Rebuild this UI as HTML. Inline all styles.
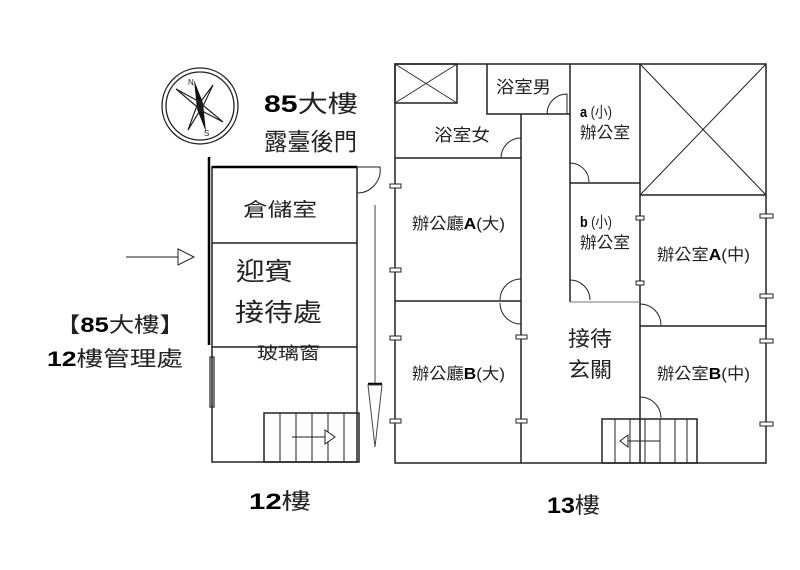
<!DOCTYPE html>
<html><head><meta charset="utf-8"><style>
html,body{margin:0;padding:0;background:#fff;}
svg{display:block;}
text{font-family:"Liberation Sans","Noto Sans CJK TC",sans-serif;fill:#222;}
.b{font-weight:bold;fill:#000;}
</style></head><body>
<svg width="800" height="570" viewBox="0 0 800 570">
<g fill="none" stroke="#222" stroke-width="1.3">
<circle cx="200" cy="106" r="38"/>
<circle cx="200" cy="106" r="34"/>
</g>
<polygon points="194,80 203,103 200,106 197,109" fill="#111"/>
<polygon points="206,132 197,109 200,106 203,103" fill="#111"/>
<polyline points="176,89 198,101 223,122 202,111 176,89" fill="none" stroke="#222" stroke-width="1.2"/>
<polyline points="213,85 204,104 188,130 196,108 213,85" fill="none" stroke="#222" stroke-width="1.2"/>
<text x="188" y="85" font-size="8">N</text>
<text x="204" y="136" font-size="8">S</text>

<g fill="none" stroke="#222" stroke-width="1">
<line x1="126" y1="257" x2="178" y2="257"/>
<polygon points="178,249 194,257 178,265" fill="#fff"/>
</g>

<g fill="none" stroke="#222" stroke-width="1.5">
<rect x="212" y="167" width="145" height="295"/>
<line x1="212" y1="243" x2="357" y2="243"/>
<line x1="212" y1="347" x2="357" y2="347"/>
<rect x="264" y="413" width="95" height="49"/>
<line x1="280" y1="413" x2="280" y2="462" stroke-width="1"/>
<line x1="296" y1="413" x2="296" y2="462" stroke-width="1"/>
<line x1="312" y1="413" x2="312" y2="462" stroke-width="1"/>
<line x1="328" y1="413" x2="328" y2="462" stroke-width="1"/>
<line x1="344" y1="413" x2="344" y2="462" stroke-width="1"/>
<line x1="292" y1="437" x2="325" y2="437" stroke-width="1"/>
<polygon points="325,430 335,437 325,444" stroke-width="1" fill="#fff"/>
<path d="M357,193 A23,23 0 0 0 380,167 L357,167" stroke-width="1"/>
<rect x="210" y="357" width="4" height="50" stroke-width="1.2"/>
</g>
<line x1="209" y1="157" x2="209" y2="345" stroke="#000" stroke-width="2.5"/>
<line x1="212" y1="167" x2="357" y2="167" stroke="#000" stroke-width="2.5"/>
<line x1="375" y1="205" x2="375" y2="385" stroke="#444" stroke-width="1"/>
<line x1="368" y1="384" x2="382" y2="384" stroke="#000" stroke-width="2.5"/>
<polygon points="368,385 382,385 375,447" fill="none" stroke="#444" stroke-width="1"/>

<g fill="none" stroke="#222" stroke-width="1.5">
<rect x="395" y="64" width="371" height="399"/>
<rect x="395" y="64" width="62" height="39"/>
<line x1="395" y1="64" x2="457" y2="103" stroke-width="0.8"/>
<line x1="457" y1="64" x2="395" y2="103" stroke-width="0.8"/>
<polyline points="487,64 487,114 570,114"/>
<line x1="395" y1="158" x2="521" y2="158"/>
<line x1="521" y1="114" x2="521" y2="463"/>
<line x1="570" y1="64" x2="570" y2="302"/>
<line x1="640" y1="64" x2="640" y2="463"/>
<line x1="570" y1="183" x2="640" y2="183"/>
<line x1="640" y1="195" x2="766" y2="195"/>
<line x1="640" y1="64" x2="766" y2="195" stroke-width="1"/>
<line x1="766" y1="64" x2="640" y2="195" stroke-width="1"/>
<line x1="640" y1="326" x2="766" y2="326"/>
<line x1="395" y1="301" x2="521" y2="301"/>
<line x1="570" y1="302" x2="640" y2="302" stroke="#777" stroke-width="1"/>
<rect x="602" y="419" width="95" height="44"/>
<g stroke-width="1">
<line x1="615" y1="419" x2="615" y2="463"/><line x1="630" y1="419" x2="630" y2="463"/>
<line x1="645" y1="419" x2="645" y2="463"/><line x1="660" y1="419" x2="660" y2="463"/>
<line x1="675" y1="419" x2="675" y2="463"/><line x1="687" y1="419" x2="687" y2="463"/>
<line x1="628" y1="441" x2="660" y2="441"/>
<polygon points="628,435 620,441 628,447" fill="#fff"/>
<path d="M547,114 A20,20 0 0 1 567,94 L567,114"/>
<path d="M501,158 A20,20 0 0 1 521,138"/>
<path d="M570,163 A19,19 0 0 1 589,182"/>
<path d="M570,280 A20,20 0 0 1 590,300"/>
<path d="M500,300 A21,21 0 0 1 521,279"/>
<path d="M500,303 A21,21 0 0 0 521,324"/>
<path d="M640,304 A21,21 0 0 1 661,325"/>
<path d="M640,397 A21,21 0 0 1 661,418"/>
</g>
</g>
<g fill="#fff" stroke="#222" stroke-width="1">
<rect x="390" y="184" width="11" height="4"/><rect x="390" y="268" width="11" height="4"/>
<rect x="390" y="336" width="11" height="4"/><rect x="390" y="419" width="11" height="4"/>
<rect x="516" y="335" width="11" height="4"/><rect x="516" y="419" width="11" height="4"/>
<rect x="636" y="216" width="8" height="4"/><rect x="636" y="281" width="8" height="4"/>
<rect x="760" y="214" width="13" height="4"/><rect x="760" y="294" width="13" height="4"/>
<rect x="760" y="339" width="13" height="4"/><rect x="760" y="422" width="13" height="4"/>
</g>

<text x="264" y="112" font-size="24" textLength="94" lengthAdjust="spacingAndGlyphs"><tspan class="b">85</tspan>大樓</text>
<text x="264" y="150" font-size="24" textLength="93" lengthAdjust="spacingAndGlyphs">露臺後門</text>
<text x="243" y="216" font-size="19" textLength="74" lengthAdjust="spacingAndGlyphs">倉儲室</text>
<text x="236" y="280" font-size="25" textLength="57" lengthAdjust="spacingAndGlyphs">迎賓</text>
<text x="235" y="321" font-size="25" textLength="87" lengthAdjust="spacingAndGlyphs">接待處</text>
<text x="257" y="359" font-size="17" textLength="63" lengthAdjust="spacingAndGlyphs">玻璃窗</text>
<text x="55" y="332" font-size="21" textLength="130" lengthAdjust="spacingAndGlyphs">【<tspan class="b">85</tspan>大樓】</text>
<text x="47" y="366" font-size="21" textLength="136" lengthAdjust="spacingAndGlyphs"><tspan class="b">12</tspan>樓管理處</text>
<text x="249" y="509" font-size="22" textLength="62" lengthAdjust="spacingAndGlyphs"><tspan class="b">12</tspan>樓</text>
<text x="547" y="513" font-size="22" textLength="53" lengthAdjust="spacingAndGlyphs"><tspan class="b">13</tspan>樓</text>
<text x="496" y="93" font-size="17" textLength="55" lengthAdjust="spacingAndGlyphs">浴室男</text>
<text x="434" y="141" font-size="17" textLength="56" lengthAdjust="spacingAndGlyphs">浴室女</text>
<text x="580" y="117" font-size="15" textLength="32" lengthAdjust="spacingAndGlyphs"><tspan class="b">a</tspan> (小)</text>
<text x="580" y="138" font-size="16" textLength="50" lengthAdjust="spacingAndGlyphs">辦公室</text>
<text x="580" y="227" font-size="15" textLength="32" lengthAdjust="spacingAndGlyphs"><tspan class="b">b</tspan> (小)</text>
<text x="580" y="248" font-size="16" textLength="50" lengthAdjust="spacingAndGlyphs">辦公室</text>
<text x="412" y="229" font-size="16" textLength="93" lengthAdjust="spacingAndGlyphs">辦公廳<tspan class="b">A</tspan>(大)</text>
<text x="412" y="379" font-size="16" textLength="93" lengthAdjust="spacingAndGlyphs">辦公廳<tspan class="b">B</tspan>(大)</text>
<text x="657" y="260" font-size="16" textLength="93" lengthAdjust="spacingAndGlyphs">辦公室<tspan class="b">A</tspan>(中)</text>
<text x="657" y="379" font-size="16" textLength="93" lengthAdjust="spacingAndGlyphs">辦公室<tspan class="b">B</tspan>(中)</text>
<text x="568" y="346" font-size="21" textLength="44" lengthAdjust="spacingAndGlyphs">接待</text>
<text x="568" y="377" font-size="21" textLength="44" lengthAdjust="spacingAndGlyphs">玄關</text>
</svg>
</body></html>
